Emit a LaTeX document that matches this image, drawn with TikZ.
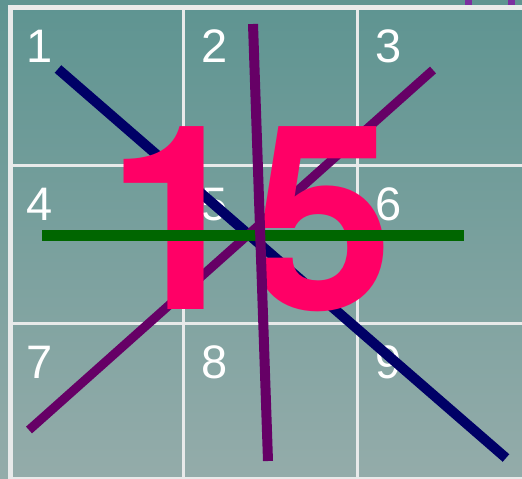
\documentclass[tikz,border=0pt]{standalone}
\usepackage{fontspec}
\setmainfont{Liberation Sans}
\newfontfamily\bigfont{TeX Gyre Heros}
\begin{document}
\begin{tikzpicture}[x=1pt,y=-1pt,
  gridline/.style={draw=gridwhite,line width=3pt},
  border/.style={draw=gridwhite,line width=5pt},
  cellnum/.style={text=white,font=\fontsize{47}{47}\selectfont,anchor=base,inner sep=0pt},
  stroke/.style={line width=10pt,line cap=butt}]
\definecolor{topteal}{RGB}{94,148,145}
\definecolor{botteal}{RGB}{148,172,170}
\definecolor{gridwhite}{RGB}{232,234,234}
\definecolor{navyline}{RGB}{0,0,102}
\definecolor{plumline}{RGB}{102,0,102}
\definecolor{greenline}{RGB}{0,102,0}
\definecolor{hotpink}{RGB}{255,0,102}
\definecolor{violetbit}{RGB}{123,47,160}
\useasboundingbox (0,0) rectangle (522,479);
\shade[top color=topteal,bottom color=botteal] (0,0) rectangle (522,479);
% grid
\draw[border] (10.5,5) -- (10.5,479);
\draw[border] (8,7.5) -- (522,7.5);
\draw[gridline] (8,478) -- (522,478);
\draw[gridline] (183,8) -- (183,479);
\draw[gridline] (357,8) -- (357,479);
\draw[gridline] (10,165) -- (522,165);
\draw[gridline] (10,323) -- (522,323);
% top-right bits
\fill[violetbit] (465,0) rectangle (472,5);
\fill[violetbit] (508,0) rectangle (515,5);
% numbers
\node[cellnum] (n1) at (40,62) {1};
\node[cellnum] (n2) at (215,62) {2};
\node[cellnum] (n3) at (389,62) {3};
\node[cellnum] (n4) at (40,220) {4};
\node[cellnum] (n5) at (215,220) {5};
\node[cellnum] (n6) at (389,220) {6};
\node[cellnum] (n7) at (40,378) {7};
\node[cellnum] (n8) at (215,378) {8};
\node[cellnum] (n9) at (389,378) {9};
% lines
\coordinate (a1) at (58,69);
\coordinate (a2) at (506,458);
\coordinate (b1) at (29,430);
\coordinate (b2) at (433,70);
\coordinate (c1) at (253,24);
\coordinate (c2) at (268,461);
\coordinate (d1) at (42,235);
\coordinate (d2) at (464,235);
\draw[stroke,navyline] (a1) -- (a2);
\draw[stroke,plumline,line width=9pt] (b1) -- (b2);
\node[text=hotpink,font=\fontsize{258}{258}\selectfont\bigfont\bfseries,anchor=base,inner sep=0pt] (big) at (250,309) {15};
\draw[stroke,greenline,line width=11pt] (d1) -- (d2);
\draw[stroke,plumline] (c1) -- (c2);
\end{tikzpicture}
\end{document}
